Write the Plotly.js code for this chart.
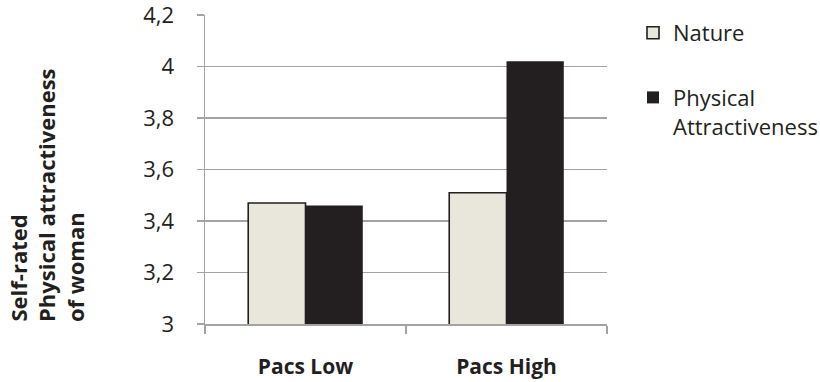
<!DOCTYPE html>
<html>
<head>
<meta charset="utf-8">
<script src="https://cdn.plot.ly/plotly-3.0.1.min.js"></script>
<style>
  html, body { margin: 0; padding: 0; background: #ffffff; }
  #chart { width: 820px; height: 382px; }
</style>
</head>
<body>
<div id="chart"></div>
<script>
// Groups along the x axis
const categories = ["Pacs Low", "Pacs High"];

// Mean self-rated physical attractiveness per prime condition
const natureValues = [3.47, 3.51];
const physicalValues = [3.46, 4.02];

const seriesNames = ["Nature", "Physical<br>Attractiveness"];

// Y axis ticks (decimal comma)
const yTickValues = [3, 3.2, 3.4, 3.6, 3.8, 4, 4.2];

// Y axis title, one entry per line
const yTitleLines = ["Self-rated", "Physical attractiveness", "of woman"];

const ink = "#231f20";
const grid = "#a3a3a3";
const fontFamily = "'Open Sans', 'Noto Sans', sans-serif";

const traces = [
  {
    type: "bar",
    name: seriesNames[0],
    legendgroup: "nature",
    x: categories,
    y: natureValues,
    marker: { color: "#e9e7dc", line: { color: ink, width: 1.6 } },
    hoverinfo: "skip"
  },
  {
    type: "bar",
    name: seriesNames[1],
    legendgroup: "physical",
    x: categories,
    y: physicalValues,
    marker: { color: ink, line: { color: ink, width: 0 } },
    hoverinfo: "skip"
  }
];

// Each title line is placed on its own so the spacing between lines can be set
const titleX = [17, 46, 75];
const annotations = yTitleLines.map((line, i) => ({
  text: "<b>" + line + "</b>",
  xref: "paper", yref: "paper",
  x: (titleX[i] - 205) / 402,
  y: 0,
  xanchor: "center", yanchor: "bottom",
  textangle: -90,
  showarrow: false,
  font: { family: fontFamily, size: 22, color: ink }
}));

const layout = {
  width: 820,
  height: 382,
  margin: { l: 205, r: 213, t: 15, b: 58 },
  paper_bgcolor: "#ffffff",
  plot_bgcolor: "#ffffff",
  separators: ",.",
  font: { family: fontFamily, size: 22, color: ink },
  barmode: "group",
  bargap: 0.43,
  bargroupgap: 0,
  showlegend: true,
  legend: {
    xref: "container", yref: "container",
    x: 633 / 820, y: 1 - 12 / 382,
    xanchor: "left", yanchor: "top",
    font: { family: fontFamily, size: 22, color: ink },
    traceorder: "grouped",
    tracegroupgap: 33,
    valign: "top",
    bgcolor: "rgba(0,0,0,0)"
  },
  xaxis: {
    type: "category",
    showline: true,
    linecolor: grid,
    linewidth: 1.5,
    ticks: "outside",
    tickson: "boundaries",
    ticklen: 8,
    tickcolor: grid,
    tickwidth: 1.5,
    showgrid: false,
    ticklabelstandoff: 23,
    tickfont: { family: fontFamily, size: 21, color: ink, weight: "bold" },
    fixedrange: true
  },
  yaxis: {
    range: [3, 4.2],
    tickvals: yTickValues,
    showline: true,
    linecolor: grid,
    linewidth: 1.5,
    ticks: "outside",
    ticklen: 7,
    tickcolor: grid,
    tickwidth: 1.5,
    showgrid: true,
    gridcolor: grid,
    gridwidth: 1.5,
    zeroline: false,
    ticklabelstandoff: 18,
    ticklabeloverflow: "allow",
    tickfont: { family: fontFamily, size: 22, color: ink },
    fixedrange: true
  },
  annotations: annotations
};

Plotly.newPlot("chart", traces, layout, { displayModeBar: false, staticPlot: true });
</script>
</body>
</html>
